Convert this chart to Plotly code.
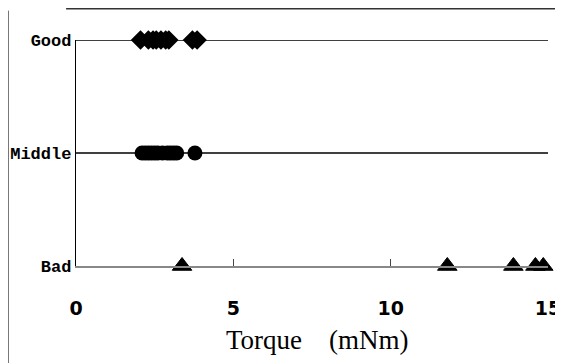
import plotly.graph_objects as go

# Data
category_labels = ["Bad", "Middle", "Good"]
category_positions = [0, 1, 2]

good_torque = [2.05, 2.3, 2.45, 2.55, 2.7, 2.85, 2.95, 3.7, 3.85]
middle_torque = [2.1, 2.2, 2.3, 2.4, 2.5, 2.6, 2.75, 2.9, 3.0, 3.1, 3.2, 3.78]
bad_torque = [3.37, 11.8, 13.9, 14.6, 14.85]

x_ticks = [0, 5, 10, 15]
x_title = "Torque\u3000(mNm)"

fig = go.Figure()
fig.add_trace(go.Scatter(x=good_torque, y=[2] * len(good_torque), mode="markers",
                         marker=dict(symbol="diamond", size=15, color="black"),
                         cliponaxis=False, showlegend=False))
fig.add_trace(go.Scatter(x=middle_torque, y=[1] * len(middle_torque), mode="markers",
                         marker=dict(symbol="circle", size=15, color="black"),
                         cliponaxis=False, showlegend=False))
fig.add_trace(go.Scatter(x=bad_torque, y=[0] * len(bad_torque), mode="markers",
                         marker=dict(symbol="triangle-up", size=17, color="black",
                                     line=dict(color="black", width=1)),
                         cliponaxis=False, showlegend=False))

# page body has an 8px margin, so the figure is sized/offset to compensate
fig.update_layout(
    width=555, height=355,
    margin=dict(l=68, r=15, t=32, b=97),
    paper_bgcolor="white", plot_bgcolor="white",
    xaxis=dict(range=[0, 15], tickvals=x_ticks, ticktext=[str(v) for v in x_ticks],
               automargin=False,
               showgrid=False, zeroline=False, showline=True, linecolor="#888888", linewidth=1.5,
               ticks="inside", ticklen=7, tickcolor="#444444", tickwidth=1,
               ticklabelstandoff=24,
               tickfont=dict(family="DejaVu Sans", size=19, color="black", weight="bold")),
    yaxis=dict(range=[0, 2], tickvals=category_positions, ticktext=category_labels,
               automargin=False,
               showgrid=False, zeroline=False,
               showline=True, linecolor="black", linewidth=1.3, ticks="",
               ticklabelstandoff=0,
               tickfont=dict(family="Liberation Mono", size=17, color="black", weight="bold")),
)

# x axis title placed as an annotation to match the reference position
fig.add_annotation(text=x_title, xref="paper", yref="paper", x=0.512, y=-0.328,
                   xanchor="center", yanchor="middle", showarrow=False,
                   font=dict(family="Liberation Serif", size=27, color="black"))

# horizontal category lines at Good and Middle
for yv in [1, 2]:
    fig.add_shape(type="line", xref="paper", yref="y", x0=0, x1=1, y0=yv, y1=yv,
                  line=dict(color="black", width=1.3), layer="below")

# partial outer frame (scanned figure border)
fig.add_shape(type="line", xref="paper", yref="paper", x0=-0.021, x1=1.04, y0=1.139, y1=1.139,
              line=dict(color="#333333", width=2))
fig.add_shape(type="line", xref="paper", yref="paper", x0=-0.1430, x1=-0.1430, y0=1.13, y1=-0.45,
              line=dict(color="#777777", width=1))

fig.write_html("out.html")
